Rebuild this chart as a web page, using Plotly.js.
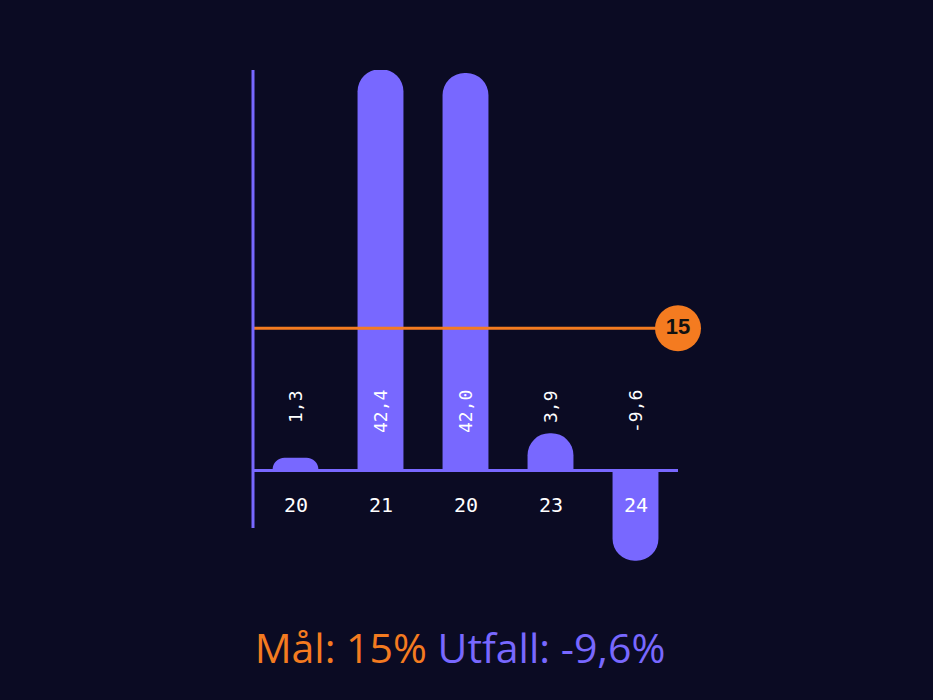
<!DOCTYPE html>
<html>
<head>
<meta charset="utf-8">
<script src="https://cdn.plot.ly/plotly-3.0.1.min.js"></script>
<style>
  html, body { margin: 0; padding: 0; background: #0b0b23; }
  #chart { width: 933px; height: 700px; }
</style>
</head>
<body>
<div id="chart"></div>
<script>
// ---- data ----
const tickLabels = ["20", "21", "20", "23", "24"];
const values = [1.3, 42.4, 42.0, 3.9, -9.6];
const target = 15;
const outcomeText = "-9,6%";
const targetText = "15%";

// ---- styling ----
const BG = "#0b0b23";
const PURPLE = "#7868ff";
const ORANGE = "#f47b20";
const Y_RANGE = [-11, 42.33];
const AXIS_LINE_BOTTOM = -6.14;

const xIdx = values.map((_, i) => i);
const xRange = [-0.5, values.length - 0.5];
const fmt = v => v.toFixed(1).replace(".", ",");

const bars = {
  type: "bar",
  x: xIdx,
  y: values,
  marker: { color: PURPLE, cornerradius: "50%", line: { width: 0 } },
  cliponaxis: false,
  hoverinfo: "skip"
};

const targetLine = {
  type: "scatter",
  mode: "lines",
  x: xRange,
  y: [target, target],
  line: { color: ORANGE, width: 3 },
  cliponaxis: false,
  hoverinfo: "skip"
};

const targetBadge = {
  type: "scatter",
  mode: "markers+text",
  x: [xRange[1]],
  y: [target],
  text: [String(target)],
  textposition: "middle center",
  textfont: { family: "Liberation Sans, Arial, sans-serif", size: 22, color: "#111111", weight: "bold" },
  marker: { color: ORANGE, size: 46, line: { width: 0 } },
  cliponaxis: false,
  hoverinfo: "skip"
};

const annotations = [];
values.forEach((v, i) => {
  annotations.push({
    x: i, y: 0, xref: "x", yref: "y",
    text: fmt(v),
    textangle: -90,
    showarrow: false,
    xanchor: "center", yanchor: "top",
    yshift: 82,
    font: { family: "DejaVu Sans Mono, monospace", size: 18, color: "#ffffff" }
  });
  annotations.push({
    x: i, y: 0, xref: "x", yref: "y",
    text: tickLabels[i],
    showarrow: false,
    xanchor: "center", yanchor: "middle",
    yshift: -35,
    font: { family: "DejaVu Sans Mono, monospace", size: 20, color: "#ffffff" }
  });
});

const layout = {
  width: 933,
  height: 700,
  paper_bgcolor: BG,
  plot_bgcolor: BG,
  showlegend: false,
  margin: { l: 253, r: 255, t: 70, b: 126 },
  bargap: 0.46,
  title: {
    text: '<span style="color:' + ORANGE + '">Mål: ' + targetText + '</span> <span style="color:' + PURPLE + '">Utfall: ' + outcomeText + '</span>',
    font: { family: "Open Sans, sans-serif", size: 41 },
    xref: "container", x: 0.493, xanchor: "center",
    yref: "container", y: 0.074, yanchor: "middle"
  },
  xaxis: {
    range: xRange,
    showgrid: false, zeroline: false, showline: false,
    showticklabels: false, ticks: "", fixedrange: true
  },
  yaxis: {
    range: Y_RANGE,
    showgrid: false,
    zeroline: true, zerolinecolor: PURPLE, zerolinewidth: 3,
    showline: false,
    showticklabels: false, ticks: "", fixedrange: true
  },
  shapes: [{
    type: "line", xref: "paper", yref: "y",
    x0: 0, x1: 0, y0: AXIS_LINE_BOTTOM, y1: Y_RANGE[1],
    line: { color: PURPLE, width: 3 }, layer: "above"
  }],
  annotations: annotations
};

Plotly.newPlot("chart", [bars, targetLine, targetBadge], layout, { displayModeBar: false, staticPlot: true });
</script>
</body>
</html>
